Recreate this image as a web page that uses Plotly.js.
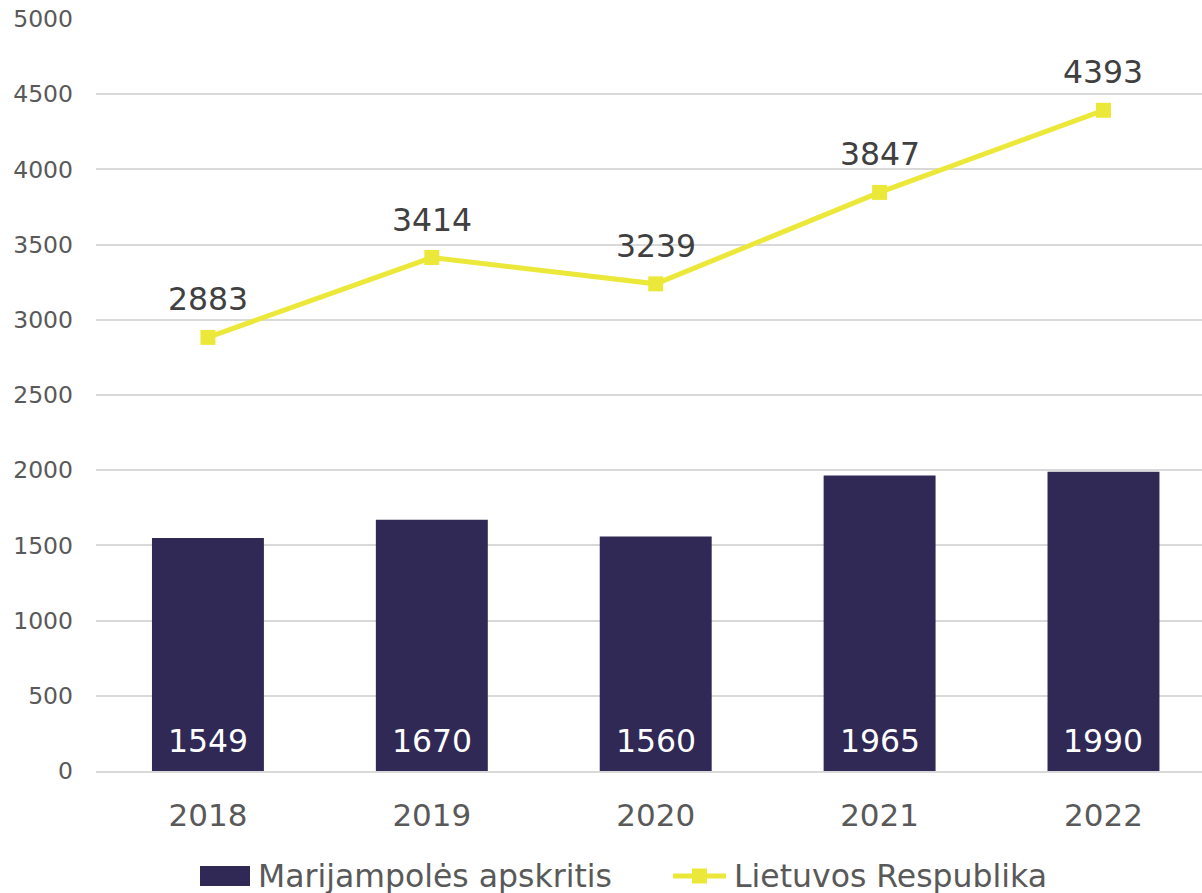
<!DOCTYPE html>
<html>
<head>
<meta charset="utf-8">
<script src="https://cdn.plot.ly/plotly-3.0.1.min.js"></script>
<style>html,body{margin:0;padding:0;background:#fff;}#chart{width:1202px;height:893px;}</style>
</head>
<body>
<div id="chart"></div>
<script>
const years = ["2018", "2019", "2020", "2021", "2022"];
const marijampoleValues = [1549, 1670, 1560, 1965, 1990];
const lietuvaValues = [2883, 3414, 3239, 3847, 4393];
const seriesNames = ["Marijampolės apskritis", "Lietuvos Respublika"];
const yTicks = [0, 500, 1000, 1500, 2000, 2500, 3000, 3500, 4000, 4500, 5000];

const font = "DejaVu Sans, Verdana, sans-serif";
const barColor = "#302855";
const lineColor = "#ECE83A";

const W = 1202, H = 893;
const M = {l: 96, r: 0, t: 19, b: 122};
const pw = W - M.l - M.r, ph = H - M.t - M.b;
const px = v => (v - M.l) / pw;       // pixel x -> paper x
const py = v => (H - M.b - v) / ph;   // pixel y -> paper y

const traces = [
  {
    type: "bar",
    name: seriesNames[0],
    x: years,
    y: marijampoleValues,
    marker: {color: barColor},
    showlegend: false
  },
  {
    type: "scatter",
    mode: "lines+markers",
    name: seriesNames[1],
    x: years,
    y: lietuvaValues,
    line: {color: lineColor, width: 5},
    marker: {symbol: "square", size: 15, color: lineColor},
    showlegend: false,
    cliponaxis: false
  }
];

const annotations = [];
years.forEach((yr, i) => {
  // category index i corresponds to category years[i]
  annotations.push({
    x: i, y: lietuvaValues[i], xref: "x", yref: "y",
    text: String(lietuvaValues[i]), showarrow: false,
    yshift: 38, yanchor: "middle",
    font: {family: font, size: 31.5, color: "#404040"}
  });
  annotations.push({
    x: i, y: 0, xref: "x", yref: "y",
    text: String(marijampoleValues[i]), showarrow: false,
    yshift: 30, yanchor: "middle",
    font: {family: font, size: 31.5, color: "#ffffff"}
  });
});
// legend texts
annotations.push({
  x: px(256), y: py(876), xref: "paper", yref: "paper",
  xanchor: "left", yanchor: "middle", showarrow: false,
  text: seriesNames[0], font: {family: font, size: 31.5, color: "#595959"}
});
annotations.push({
  x: px(732), y: py(876), xref: "paper", yref: "paper",
  xanchor: "left", yanchor: "middle", showarrow: false,
  text: seriesNames[1], font: {family: font, size: 31.5, color: "#595959"}
});

const shapes = [
  {type: "rect", xref: "paper", yref: "paper",
   x0: px(200), x1: px(250), y0: py(886), y1: py(866),
   fillcolor: barColor, line: {width: 0}},
  {type: "line", xref: "paper", yref: "paper",
   x0: px(673), x1: px(726), y0: py(876), y1: py(876),
   line: {color: lineColor, width: 5}},
  {type: "rect", xref: "paper", yref: "paper",
   x0: px(692), x1: px(707), y0: py(883.5), y1: py(868.5),
   fillcolor: lineColor, line: {width: 0}}
];

const layout = {
  width: W,
  height: H,
  margin: M,
  paper_bgcolor: "#ffffff",
  plot_bgcolor: "#ffffff",
  font: {family: font, color: "#595959"},
  bargap: 0.5,
  showlegend: false,
  annotations: annotations,
  shapes: shapes,
  xaxis: {
    type: "category",
    range: [-0.5, 4.44],
    tickfont: {family: font, size: 31, color: "#595959"},
    showgrid: false,
    showline: true,
    linecolor: "#d9d9d9",
    linewidth: 2,
    ticks: "",
    ticklabelstandoff: 16,
    fixedrange: true
  },
  yaxis: {
    range: [0, 5000],
    tickvals: yTicks,
    ticktext: yTicks.map(String),
    tickfont: {family: font, size: 23.5, color: "#595959"},
    gridcolor: "#d9d9d9",
    gridwidth: 2,
    zeroline: false,
    showline: false,
    ticks: "",
    ticklabelstandoff: 22,
    fixedrange: true
  }
};

Plotly.newPlot("chart", traces, layout, {displayModeBar: false, staticPlot: true});
</script>
</body>
</html>
